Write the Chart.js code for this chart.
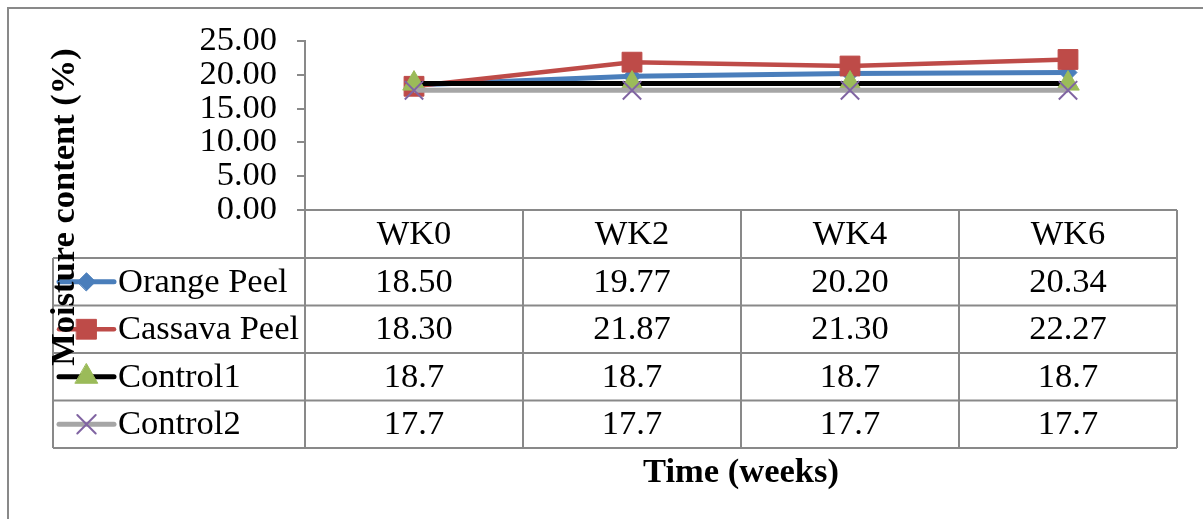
<!DOCTYPE html>
<html>
<head>
<meta charset="utf-8">
<script src="https://cdn.jsdelivr.net/npm/chart.js@4/dist/chart.umd.min.js"></script>
<style>
  html, body { margin: 0; padding: 0; background: #fff; }
  #wrap { width: 1203px; height: 519px; position: relative; }
</style>
</head>
<body>
<div id="wrap"><canvas id="grafico"></canvas></div>
<script>
const weeks = ["WK0", "WK2", "WK4", "WK6"];
const seriesNames = ["Orange Peel", "Cassava Peel", "Control1", "Control2"];
const orangePeel = [18.50, 19.77, 20.20, 20.34];
const cassavaPeel = [18.30, 21.87, 21.30, 22.27];
const control1 = [18.7, 18.7, 18.7, 18.7];
const control2 = [17.7, 17.7, 17.7, 17.7];
const yTicks = [0, 5, 10, 15, 20, 25];
const tableDecimals = [2, 2, 1, 1];

const SERIF = "'Liberation Serif', 'Times New Roman', serif";
const GRAY = "#898989";

const datasets = [
    {
        label: seriesNames[0], data: orangePeel, order: 4,
        borderColor: "#4A7EBB", borderWidth: 5,
        pointStyle: "rectRot", pointRadius: 9,
        pointBackgroundColor: "#4A7EBB", pointBorderColor: "#4A7EBB", pointBorderWidth: 1
    },
    {
        label: seriesNames[1], data: cassavaPeel, order: 3,
        borderColor: "#BE4B48", borderWidth: 4.5,
        pointStyle: "rect", pointRadius: 14,
        pointBackgroundColor: "#BE4B48", pointBorderColor: "#BE4B48", pointBorderWidth: 1
    },
    {
        label: seriesNames[2], data: control1, order: 2,
        borderColor: "#000000", borderWidth: 5,
        pointStyle: "triangle", pointRadius: 13,
        pointBackgroundColor: "#9BBB59", pointBorderColor: "#9BBB59", pointBorderWidth: 1
    },
    {
        label: seriesNames[3], data: control2, order: 1,
        borderColor: "#A6A6A6", borderWidth: 5,
        pointStyle: "crossRot", pointRadius: 13,
        pointBackgroundColor: "#8064A2", pointBorderColor: "#8064A2", pointBorderWidth: 2
    }
];

// tabla de datos + titulos de ejes
const tablaPlugin = {
    id: "tabla",
    beforeDraw(chart) {
        const ctx = chart.ctx;
        ctx.save();
        ctx.fillStyle = "#fff";
        ctx.fillRect(0, 0, chart.width, chart.height);
        ctx.strokeStyle = GRAY;
        ctx.lineWidth = 2;
        ctx.strokeRect(8, 8, chart.width + 10, chart.height + 10);
        ctx.restore();
    },
    afterDraw(chart) {
        const ctx = chart.ctx;
        const x = chart.scales.x;
        const area = chart.chartArea;
        const colW = (area.right - area.left) / weeks.length;
        const top = area.bottom;
        const headerH = 48;
        const rowH = 47.5;
        const legendLeft = 53;
        const bottom = top + headerH + rowH * seriesNames.length;

        ctx.save();
        ctx.strokeStyle = GRAY;
        ctx.lineWidth = 2;
        ctx.beginPath();
        // linea del eje x
        ctx.moveTo(area.left, top);
        ctx.lineTo(area.right, top);
        // horizontales
        for (let r = 0; r <= seriesNames.length; r++) {
            const yy = top + headerH + r * rowH;
            ctx.moveTo(legendLeft, yy);
            ctx.lineTo(area.right, yy);
        }
        // verticales
        for (let c = 0; c <= weeks.length; c++) {
            const xx = area.left + c * colW;
            ctx.moveTo(xx, top);
            ctx.lineTo(xx, bottom);
        }
        ctx.moveTo(legendLeft, top + headerH);
        ctx.lineTo(legendLeft, bottom);
        ctx.stroke();

        ctx.fillStyle = "#000";
        ctx.font = `34.5px ${SERIF}`;
        ctx.textAlign = "center";
        ctx.textBaseline = "middle";
        weeks.forEach((w, i) => {
            ctx.fillText(w, x.getPixelForValue(i), top + headerH / 2 + 1);
        });

        datasets.forEach((ds, r) => {
            const cy = top + headerH + r * rowH + rowH / 2 + 1;
            ds.data.forEach((v, i) => {
                ctx.textAlign = "center";
                ctx.fillText(v.toFixed(tableDecimals[r]), x.getPixelForValue(i), cy);
            });
            // clave de leyenda
            const ly = cy - 1;
            ctx.save();
            ctx.strokeStyle = ds.borderColor;
            ctx.lineWidth = ds.borderWidth;
            ctx.lineCap = "round";
            ctx.beginPath();
            ctx.moveTo(59, ly);
            ctx.lineTo(114, ly);
            ctx.stroke();
            ctx.fillStyle = ds.pointBackgroundColor;
            ctx.strokeStyle = ds.pointBorderColor;
            ctx.lineWidth = ds.pointBorderWidth;
            Chart.helpers.drawPoint(ctx, {
                pointStyle: ds.pointStyle,
                rotation: 0,
                radius: ds.pointRadius,
                borderWidth: ds.pointBorderWidth
            }, 86.5, ly);
            ctx.restore();
            ctx.textAlign = "left";
            ctx.fillText(ds.label, 118, cy);
        });

        // titulos
        ctx.font = `bold 34.5px ${SERIF}`;
        ctx.textAlign = "center";
        ctx.textBaseline = "middle";
        ctx.fillText("Time (weeks)", 741, 473);
        ctx.save();
        ctx.translate(65, 207);
        ctx.rotate(-Math.PI / 2);
        ctx.fillText("Moisture content (%)", 0, 0);
        ctx.restore();
        ctx.restore();
    }
};

new Chart(document.getElementById("grafico"), {
    type: "line",
    data: { labels: weeks, datasets: datasets },
    plugins: [tablaPlugin],
    options: {
        responsive: true,
        maintainAspectRatio: false,
        animation: false,
        layout: { padding: { left: 0, right: 26, top: 41, bottom: 309 } },
        plugins: {
            legend: { display: false },
            tooltip: { enabled: false }
        },
        elements: { line: { tension: 0 } },
        scales: {
            x: { type: "category", offset: true, display: false },
            y: {
                min: 0,
                max: 25,
                afterBuildTicks: s => { s.ticks = yTicks.map(v => ({ value: v })); },
                afterFit: s => { s.width = 305; },
                ticks: {
                    autoSkip: false,
                    padding: 20,
                    color: "#000",
                    font: { family: SERIF, size: 34.5, lineHeight: 1 },
                    callback: v => Number(v).toFixed(2)
                },
                grid: { drawOnChartArea: false, drawTicks: true, tickLength: 8, color: GRAY, lineWidth: 2 },
                border: { color: GRAY, width: 2 }
            }
        }
    }
});
</script>
</body>
</html>
